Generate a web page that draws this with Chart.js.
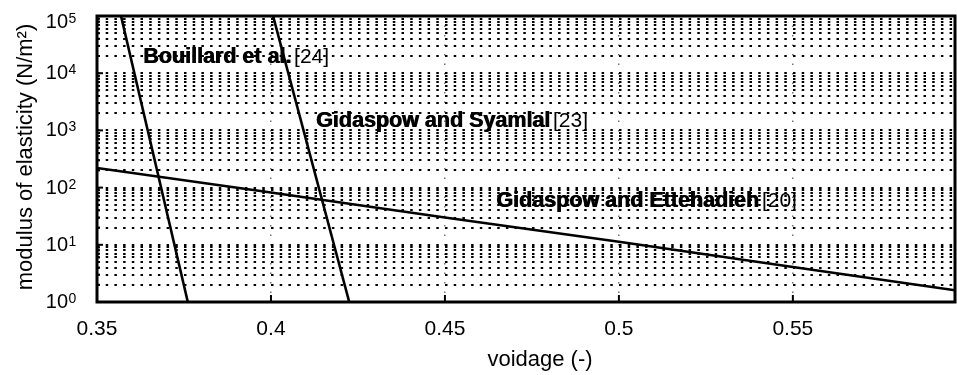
<!DOCTYPE html>
<html>
<head>
<meta charset="utf-8">
<script src="https://cdn.jsdelivr.net/npm/chart.js@4.4.1/dist/chart.umd.min.js"></script>
<style>
html,body{margin:0;padding:0;background:#fff;}
#wrap{width:957px;height:375px;position:relative;}
</style>
</head>
<body>
<div id="wrap"><canvas id="c"></canvas></div>
<script>
// ── DATA ──
const xTicks = [0.35, 0.4, 0.45, 0.5, 0.55];
const yDecades = [1, 10, 100, 1000, 10000, 100000];
const minorSteps = [2, 3, 4, 5, 6, 7, 8, 9];

const bouX = [0.3569, 0.3761];
const bouY = [100000, 1];
const syaX = [0.4006, 0.4225];
const syaY = [100000, 1];
const ettX = [0.35, 0.4, 0.45, 0.5, 0.55, 0.5966];
const ettY = [220, 82, 30, 11.3, 4.1, 1.6];

const labelNames = ['Bouillard et al.', 'Gidaspow and Syamlal', 'Gidaspow and Ettehadieh'];
const labelRefs  = ['[24]', '[23]', '[20]'];
const labelX = [0.3632, 0.4129, 0.4647];
const labelY = [15000, 1150, 46];

const FONT = "'Liberation Sans', Arial, Helvetica, sans-serif";

// all y grid values: decades plus 2..9 in between
const yGrid = [];
yDecades.forEach((d, i) => {
  yGrid.push(d);
  if (i < yDecades.length - 1) minorSteps.forEach(m => yGrid.push(d * m));
});

function pts(xs, ys){ return xs.map((x, i) => ({x, y: ys[i]})); }

const lineStyle = {borderColor:'#000', borderWidth:2.6, pointRadius:0, fill:false, tension:0};

// ── DECORATION PLUGIN ──
const deco = {
  id: 'deco',
  afterDraw(chart){
    const {ctx, chartArea:a, scales:{x, y}} = chart;
    ctx.save();
    ctx.setLineDash([]);

    // inward ticks
    ctx.strokeStyle = '#000';
    ctx.lineWidth = 2;
    xTicks.forEach(v => {
      const px = x.getPixelForValue(v);
      ctx.beginPath(); ctx.moveTo(px, a.bottom); ctx.lineTo(px, a.bottom - 7); ctx.stroke();
    });
    yGrid.forEach(v => {
      const py = y.getPixelForValue(v);
      const len = yDecades.includes(v) ? 6 : 3;
      ctx.beginPath(); ctx.moveTo(a.left, py); ctx.lineTo(a.left + len, py); ctx.stroke();
    });

    // frame
    ctx.lineWidth = 3;
    ctx.strokeRect(a.left, a.top, a.right - a.left, a.bottom - a.top);

    // y tick labels 10^n
    ctx.fillStyle = '#000';
    ctx.textBaseline = 'alphabetic';
    yDecades.forEach((v, i) => {
      const py = y.getPixelForValue(v);
      const base = Math.max(py + 6, 28);
      ctx.font = '20px ' + FONT;
      ctx.textAlign = 'right';
      ctx.fillText('10', 68, base);
      ctx.font = '14px ' + FONT;
      ctx.textAlign = 'left';
      ctx.fillText(String(i), 68.5, base - 5);
    });

    // axis titles
    ctx.font = '22px ' + FONT;
    ctx.textAlign = 'center';
    ctx.textBaseline = 'middle';
    ctx.fillText('voidage (-)', 540, 360);
    ctx.save();
    ctx.translate(26, 157);
    ctx.rotate(-Math.PI / 2);
    ctx.fillText('modulus of elasticity (N/m²)', 0, 0);
    ctx.restore();

    // curve annotations
    ctx.textAlign = 'left';
    ctx.textBaseline = 'alphabetic';
    labelNames.forEach((name, i) => {
      const px = x.getPixelForValue(labelX[i]);
      const py = y.getPixelForValue(labelY[i]);
      ctx.font = 'bold 21.5px ' + FONT;
      ctx.fillText(name, px, py);
      ctx.fillText(name, px + 0.8, py);
      const w = ctx.measureText(name).width;
      ctx.font = '21px ' + FONT;
      ctx.fillText(labelRefs[i], px + w + 3, py);
    });

    ctx.restore();
  }
};

new Chart(document.getElementById('c'), {
  type: 'line',
  data: {
    datasets: [
      {label:'Bouillard et al. [24]', data: pts(bouX, bouY), ...lineStyle},
      {label:'Gidaspow and Syamlal [23]', data: pts(syaX, syaY), ...lineStyle},
      {label:'Gidaspow and Ettehadieh [20]', data: pts(ettX, ettY), ...lineStyle}
    ]
  },
  options: {
    responsive: true, maintainAspectRatio: false, animation: false,
    layout: {padding: {top: 16, right: 2, left: 0, bottom: 0}},
    plugins: {legend: {display: false}, tooltip: {enabled: false}},
    scales: {
      x: {
        type: 'linear', min: 0.35, max: 0.5966,
        afterBuildTicks: s => { s.ticks = xTicks.map(v => ({value: v})); },
        afterFit: s => { s.height = 73; },
        border: {display: false, dash: [1.5, 8]},
        grid: {color: 'rgba(0,0,0,0.55)', lineWidth: 1.5, drawTicks: false},
        ticks: {color: '#000', font: {size: 21, family: FONT}, padding: 15, maxRotation: 0,
                callback: v => String(v)}
      },
      y: {
        type: 'logarithmic', min: 1, max: 100000,
        afterBuildTicks: s => { s.ticks = yGrid.map(v => ({value: v})); },
        afterFit: s => { s.width = 97; },
        border: {display: false, dash: [2.5, 6.2]},
        grid: {color: '#000', lineWidth: 2, drawTicks: false},
        ticks: {display: false}
      }
    }
  },
  plugins: [deco]
});
</script>
</body>
</html>
